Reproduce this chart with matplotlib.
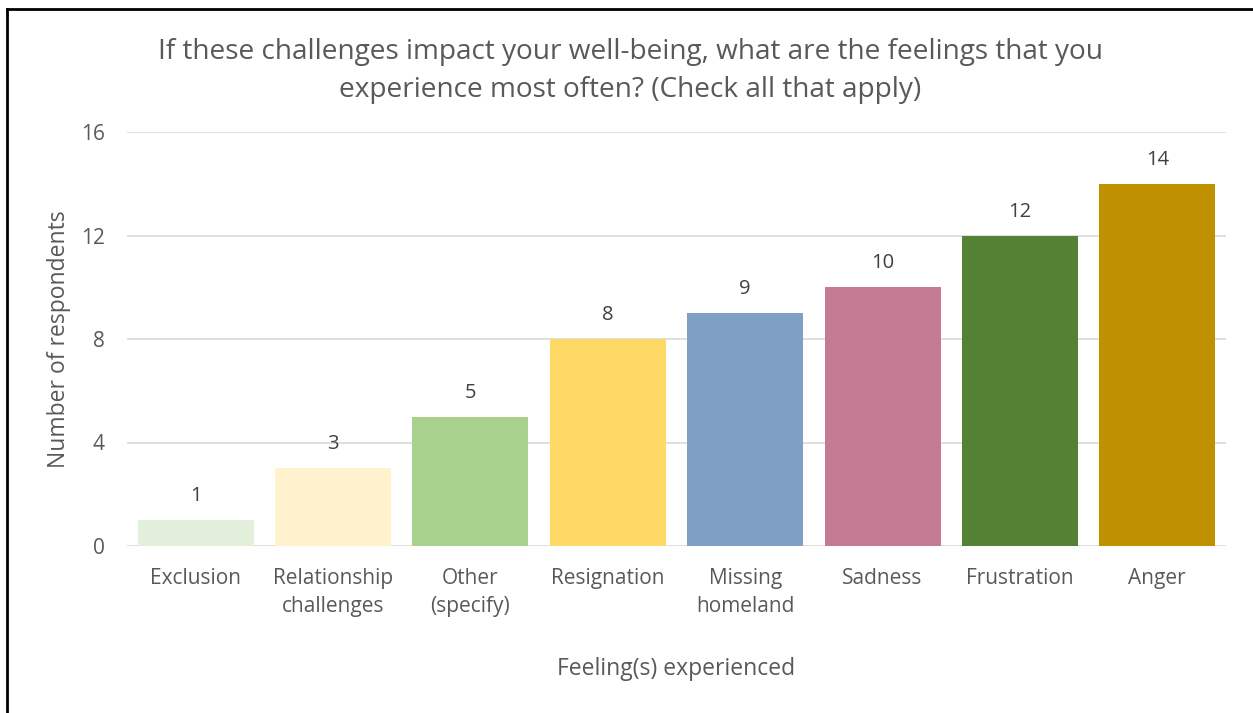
import matplotlib
matplotlib.use("Agg")
import matplotlib.pyplot as plt

categories = ["Exclusion", "Relationship\nchallenges", "Other\n(specify)", "Resignation",
              "Missing\nhomeland", "Sadness", "Frustration", "Anger"]
values = [1, 3, 5, 8, 9, 10, 12, 14]
colors = ["#E2EFDA", "#FFF2CC", "#A9D18E", "#FFD966", "#7F9FC5", "#C47A93", "#548235", "#BF9000"]
yticks = [0, 4, 8, 12, 16]

plt.rcParams['font.family'] = ['Open Sans', 'DejaVu Sans']
txt = "#595959"

fig = plt.figure(figsize=(12.53, 7.13), dpi=100)
ax = fig.add_axes([127/1253, 1-546/713, (1226-127)/1253, (546-132)/713])

x = list(range(len(categories)))
ax.bar(x, values, width=0.845, color=colors, zorder=3)
for xi, v in zip(x, values):
    ax.annotate(str(v), (xi, v), xytext=(0, 10), textcoords="offset points",
                ha="center", va="bottom", fontsize=14.5, color="#404040")

ax.set_xlim(-0.5, len(categories) - 0.5)
ax.set_ylim(0, 16)
ax.set_yticks(yticks)
ax.set_xticks(x)
ax.set_xticklabels(categories, fontsize=15, color=txt, linespacing=1.42)
ax.tick_params(axis="y", labelsize=15, labelcolor=txt, length=0, pad=16)
ax.tick_params(axis="x", length=0, pad=16)
ax.grid(axis="y", color="#D9D9D9", linewidth=1.2, zorder=0)
for s in ax.spines.values():
    s.set_visible(False)

ax.set_ylabel("Number of respondents", fontsize=16.5, color=txt, labelpad=7)
ax.set_xlabel("Feeling(s) experienced", fontsize=16.5, color=txt, labelpad=29)

fig.text(630/1253, 1-71/713,
         "If these challenges impact your well-being, what are the feelings that you\nexperience most often? (Check all that apply)",
         ha="center", va="center", fontsize=20.2, color=txt, linespacing=1.5)

fig.add_artist(plt.Line2D([7/1253, 1.05], [1-9/713, 1-9/713], color="black", linewidth=2, transform=fig.transFigure))
fig.add_artist(plt.Line2D([7/1253, 7/1253], [-0.05, 1-9/713], color="black", linewidth=2, transform=fig.transFigure))

fig.savefig("out.png", dpi=100, facecolor="white")
